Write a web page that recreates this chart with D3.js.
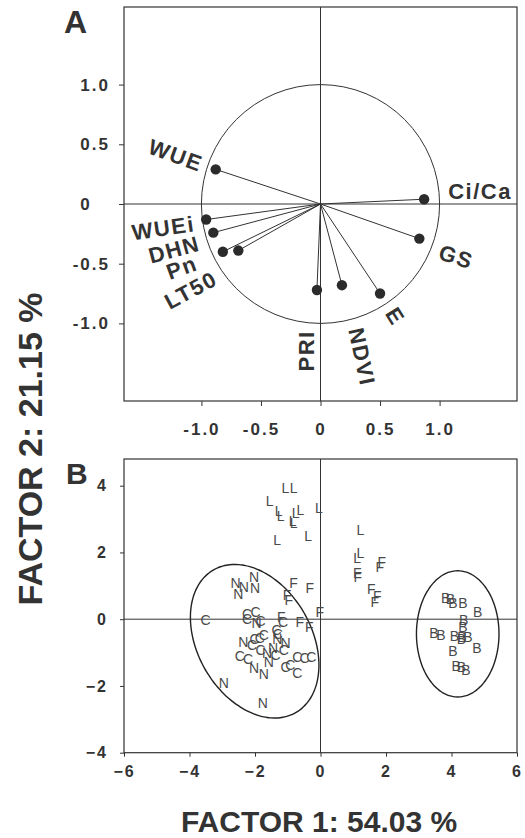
<!DOCTYPE html>
<html>
<head>
<meta charset="utf-8">
<script src="https://cdn.jsdelivr.net/npm/d3@7"></script>
<style>
  html, body { margin: 0; padding: 0; background: #fff; }
  svg { display: block; }
</style>
</head>
<body>
<svg id="chart" width="525" height="838"></svg>
<script>
// ---- Panel A: factor loadings of each variable ----
const variables       = ["WUE", "Ci/Ca", "WUEi", "DHN", "Pn", "LT50", "GS", "PRI", "NDVI", "E"];
const factor1Loadings = [-0.88, 0.87, -0.96, -0.90, -0.82, -0.69, 0.83, -0.03, 0.18, 0.50];
const factor2Loadings = [0.29, 0.04, -0.13, -0.24, -0.40, -0.39, -0.29, -0.72, -0.68, -0.75];

// ---- Axis ticks ----
const loadingTicks      = [-1, -0.5, 0, 0.5, 1];
const loadingTickLabels = ["-1.0", "-0.5", "0", "0.5", "1.0"];
const scoreXTicks       = [-6, -4, -2, 0, 2, 4, 6];
const scoreYTicks       = [-4, -2, 0, 2, 4];

// ---- Panel B: factor scores, one array per group (factor 1, factor 2) ----
const scoresL = [[-1.07, 3.93], [-0.82, 3.93], [-1.55, 3.53], [-1.28, 3.23], [-1.22, 3.10],
                 [-0.61, 3.28], [-0.76, 3.19], [-0.85, 2.93], [-0.82, 2.88], [-0.05, 3.33],
                 [-1.32, 2.38], [-0.38, 2.50], [1.22, 2.68], [1.22, 1.98], [1.12, 1.83]];
const scoresF = [[1.12, 1.38], [1.14, 1.28], [1.87, 1.73], [1.81, 1.58], [1.55, 0.90],
                 [1.73, 0.70], [1.66, 0.53], [-0.82, 1.10], [-0.33, 0.93], [-1.02, 0.73],
                 [-0.97, 0.58], [-0.02, 0.23], [-1.20, 0.06], [-0.63, -0.07], [-0.34, -0.22]];
const scoresN = [[-2.03, 1.28], [-2.59, 1.10], [-2.34, 0.98], [-2.00, 0.93], [-2.51, 0.76],
                 [-1.95, -0.10], [-2.36, -0.67], [-1.32, -0.60], [-1.07, -0.70], [-1.63, -1.02],
                 [-1.58, -1.27], [-2.03, -1.47], [-1.73, -1.65], [-2.95, -1.92], [-1.76, -2.50],
                 [-1.45, -0.85]];
const scoresC = [[-3.51, -0.02], [-2.24, 0.15], [-1.98, 0.23], [-2.24, 0.00], [-1.83, -0.04],
                 [-1.14, -0.07], [-1.34, -0.32], [-1.73, -0.47], [-2.01, -0.59], [-2.09, -0.77],
                 [-1.12, -0.92], [-1.83, -0.92], [-1.37, -1.07], [-2.46, -1.10], [-2.21, -1.20],
                 [-1.07, -1.42], [-0.92, -1.37], [-0.71, -1.62], [-0.71, -1.12], [-0.49, -1.17],
                 [-0.28, -1.14], [-1.30, -0.45], [-1.85, -0.55]];
const scoresB = [[3.82, 0.63], [3.97, 0.60], [4.04, 0.48], [4.35, 0.48], [4.80, 0.21],
                 [4.37, -0.02], [4.35, -0.22], [3.46, -0.42], [3.68, -0.47], [4.09, -0.50],
                 [4.32, -0.52], [4.30, -0.60], [4.50, -0.52], [4.78, -0.87], [4.04, -0.94],
                 [4.14, -1.40], [4.30, -1.42], [4.44, -1.52]];
const scoreGroups = [
  { symbol: "L", scores: scoresL },
  { symbol: "F", scores: scoresF },
  { symbol: "N", scores: scoresN },
  { symbol: "C", scores: scoresC },
  { symbol: "B", scores: scoresB }
];

// Group ellipses in score units: centre, semi-axes, rotation (degrees)
const groupEllipses = [
  { cx: -2.01, cy: -0.66, a: 2.48, b: 1.73, angle: -58.6 },
  { cx: 4.19,  cy: -0.44, a: 1.26, b: 1.89, angle: 0 }
];

// Where each variable name sits (loading units) and its rotation
const variableLabelLayout = {
  "WUE":   { x: -1.215, y: 0.41,  rotate: 20 },
  "Ci/Ca": { x: 1.34,   y: 0.11,  rotate: 0 },
  "GS":    { x: 1.14,   y: -0.44, rotate: 18 },
  "E":     { x: 0.63,   y: -0.94, rotate: 58 },
  "NDVI":  { x: 0.35,   y: -1.28, rotate: 78 },
  "PRI":   { x: -0.12,  y: -1.23, rotate: -90 },
  "WUEi":  { x: -1.32,  y: -0.20, rotate: -8 },
  "DHN":   { x: -1.23,  y: -0.38, rotate: -15 },
  "Pn":    { x: -1.165, y: -0.53, rotate: -20 },
  "LT50":  { x: -1.09,  y: -0.72, rotate: -28 }
};

const FONT = "'Liberation Sans', Arial, Helvetica, sans-serif";
const INK = "#333";

const svg = d3.select("#chart");

// ================= Panel A =================
const xA = d3.scaleLinear().domain([-1.65, 1.65]).range([124, 517]);
const yA = d3.scaleLinear().domain([-1.65, 1.65]).range([401, 7]);
const gA = svg.append("g");

// zero lines
gA.append("line").attr("x1", xA(0)).attr("x2", xA(0)).attr("y1", yA(1.65)).attr("y2", yA(-1.65))
  .attr("stroke", INK).attr("stroke-width", 1);
gA.append("line").attr("x1", xA(-1.65)).attr("x2", xA(1.65)).attr("y1", yA(0)).attr("y2", yA(0))
  .attr("stroke", INK).attr("stroke-width", 1);

// unit correlation circle
gA.append("ellipse")
  .attr("cx", xA(0)).attr("cy", yA(0))
  .attr("rx", xA(1) - xA(0)).attr("ry", yA(0) - yA(1))
  .attr("fill", "none").attr("stroke", INK).attr("stroke-width", 1);

const loadings = variables.map((v, i) => ({ name: v, f1: factor1Loadings[i], f2: factor2Loadings[i] }));

gA.selectAll("line.vec").data(loadings).join("line").attr("class", "vec")
  .attr("x1", xA(0)).attr("y1", yA(0))
  .attr("x2", d => xA(d.f1)).attr("y2", d => yA(d.f2))
  .attr("stroke", INK).attr("stroke-width", 1);

gA.selectAll("circle.dot").data(loadings).join("circle").attr("class", "dot")
  .attr("cx", d => xA(d.f1)).attr("cy", d => yA(d.f2)).attr("r", 5.2)
  .attr("fill", "#2b2b2b");

gA.selectAll("text.var").data(loadings).join("text").attr("class", "var")
  .attr("transform", d => {
    const p = variableLabelLayout[d.name];
    return `translate(${xA(p.x)},${yA(p.y)}) rotate(${p.rotate})`;
  })
  .attr("text-anchor", "middle").attr("dy", "0.36em")
  .attr("font-family", FONT).attr("font-weight", "bold").attr("font-size", 22)
  .attr("letter-spacing", 1.5).attr("fill", INK)
  .text(d => d.name);

// frame
gA.append("rect").attr("x", xA(-1.65)).attr("y", yA(1.65))
  .attr("width", xA(1.65) - xA(-1.65)).attr("height", yA(-1.65) - yA(1.65))
  .attr("fill", "none").attr("stroke", INK).attr("stroke-width", 1.2);

// axes
const axAx = gA.append("g").attr("transform", `translate(0,${yA(-1.65)})`)
  .call(d3.axisBottom(xA).tickValues(loadingTicks).tickSize(5).tickPadding(17)
    .tickFormat((d, i) => loadingTickLabels[i]));
const axAy = gA.append("g").attr("transform", `translate(${xA(-1.65)},0)`)
  .call(d3.axisLeft(yA).tickValues(loadingTicks).tickSize(5).tickPadding(9)
    .tickFormat((d, i) => loadingTickLabels[i]));

// ================= Panel B =================
const xB = d3.scaleLinear().domain([-6, 6]).range([124, 517]);
const yB = d3.scaleLinear().domain([-4, 4.8]).range([752.7, 459]);
const gB = svg.append("g");

gB.append("line").attr("x1", xB(0)).attr("x2", xB(0)).attr("y1", yB(4.8)).attr("y2", yB(-4))
  .attr("stroke", INK).attr("stroke-width", 1);
gB.append("line").attr("x1", xB(-6)).attr("x2", xB(6)).attr("y1", yB(0)).attr("y2", yB(0))
  .attr("stroke", INK).attr("stroke-width", 1);

// group ellipses traced through the scales
const ellipsePath = e => {
  const th = e.angle * Math.PI / 180;
  const pts = d3.range(0, 360, 3).map(deg => {
    const t = deg * Math.PI / 180;
    const ex = e.cx + e.a * Math.cos(th) * Math.cos(t) - e.b * Math.sin(th) * Math.sin(t);
    const ey = e.cy + e.a * Math.sin(th) * Math.cos(t) + e.b * Math.cos(th) * Math.sin(t);
    return [xB(ex), yB(ey)];
  });
  return d3.line().curve(d3.curveCardinalClosed)(pts);
};
gB.selectAll("path.ell").data(groupEllipses).join("path").attr("class", "ell")
  .attr("d", ellipsePath).attr("fill", "none").attr("stroke", "#222").attr("stroke-width", 1.4);

// score symbols
const points = scoreGroups.flatMap(g => g.scores.map(s => ({ symbol: g.symbol, f1: s[0], f2: s[1] })));
gB.selectAll("text.pt").data(points).join("text").attr("class", "pt")
  .attr("x", d => xB(d.f1)).attr("y", d => yB(d.f2)).attr("dy", "0.36em")
  .attr("text-anchor", "middle")
  .attr("font-family", FONT).attr("font-size", 14).attr("fill", "#4a4a4a")
  .text(d => d.symbol);

gB.append("rect").attr("x", xB(-6)).attr("y", yB(4.8))
  .attr("width", xB(6) - xB(-6)).attr("height", yB(-4) - yB(4.8))
  .attr("fill", "none").attr("stroke", INK).attr("stroke-width", 1.2);

const axBx = gB.append("g").attr("transform", `translate(0,${yB(-4)})`)
  .call(d3.axisBottom(xB).tickValues(scoreXTicks).tickSize(4).tickPadding(9).tickFormat(d3.format("d")));
const axBy = gB.append("g").attr("transform", `translate(${xB(-6)},0)`)
  .call(d3.axisLeft(yB).tickValues(scoreYTicks).tickSize(4).tickPadding(12).tickFormat(d3.format("d")));

// shared axis styling
[axAx, axAy, axBx, axBy].forEach(ax => {
  ax.select(".domain").remove();
  ax.selectAll(".tick line").attr("stroke", INK).attr("stroke-width", 1);
  ax.selectAll(".tick text").attr("font-family", FONT).attr("font-weight", "bold")
    .attr("fill", INK).attr("letter-spacing", 2);
});
[axAx, axAy].forEach(ax => ax.selectAll(".tick text").attr("font-size", 17));
[axBx, axBy].forEach(ax => ax.selectAll(".tick text").attr("font-size", 16));

// decimal alignment on the loading y axis: whole numbers line up with "x.0"
(function alignDecimals() {
  const probe = axAy.append("text").attr("font-family", FONT).attr("font-weight", "bold")
    .attr("font-size", 17).attr("letter-spacing", 2).text(".0");
  const w = probe.node().getComputedTextLength();
  probe.remove();
  axAy.selectAll(".tick text").filter(function () { return this.textContent.indexOf(".") < 0; })
    .attr("dx", -w);
})();

// ================= Titles =================
svg.append("text").attr("x", 64).attr("y", 33)
  .attr("font-family", FONT).attr("font-weight", "bold").attr("font-size", 32).attr("fill", INK)
  .text("A");
svg.append("text").attr("x", 66).attr("y", 484)
  .attr("font-family", FONT).attr("font-weight", "bold").attr("font-size", 30).attr("fill", INK)
  .text("B");

svg.append("text").attr("transform", "translate(42,449) rotate(-90)")
  .attr("text-anchor", "middle")
  .attr("font-family", FONT).attr("font-weight", "bold").attr("font-size", 34).attr("fill", INK)
  .text("FACTOR 2: 21.15 %");
svg.append("text").attr("x", 319).attr("y", 832)
  .attr("text-anchor", "middle")
  .attr("font-family", FONT).attr("font-weight", "bold").attr("font-size", 30).attr("fill", INK)
  .text("FACTOR 1: 54.03 %");
</script>
</body>
</html>
